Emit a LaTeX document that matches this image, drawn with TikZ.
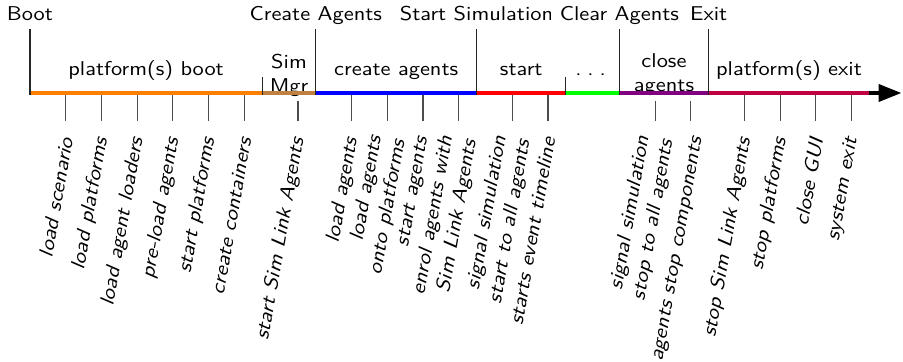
\documentclass[tikz,border=0pt]{standalone}
\usepackage{fontspec}
\setsansfont{lmsans10-regular.otf}[FakeStretch=1.12, ItalicFont=lmsans10-oblique.otf]
\usetikzlibrary{arrows.meta}
\begin{document}
\begin{tikzpicture}[x=0.5pt,y=-0.5pt, font=\sffamily,
  milestone/.style={fill=white, inner xsep=4.5pt, inner ysep=2pt, text height=7pt, text depth=2pt, anchor=base},
  mline/.style={black!85, line width=0.6pt},
  seglabel/.style={text height=7.5pt, text depth=2.5pt, anchor=center},
  seglabeltwo/.style={align=center, anchor=center},
  seg/.style={line width=2pt},
  tickline/.style={black!70, line width=0.6pt},
  evlabel/.style={rotate=80, anchor=east, inner sep=0pt, align=right, font=\sffamily\itshape},
]
\useasboundingbox (0,0) rectangle (903,362);

% segment labels (drawn below the axis line)
\node[seglabel] (l1) at (146.1,71) {platform(s) boot};
\node[seglabeltwo] (l2) at (289,75) {Sim\\Mgr};
\node[seglabel] (l3) at (396.2,71) {create agents};
\node[seglabel] (l4) at (521.2,71) {start};
\node[seglabel] (l5) at (590.6,71) {.\kern2.9pt.\kern2.9pt.};
\node[seglabeltwo] (l6) at (664,75) {close\\agents};
\node[seglabel] (l7) at (789,71) {platform(s) exit};

% axis
\coordinate (a0) at (30,93);
\coordinate (a1) at (262.2,93);
\coordinate (a2) at (315.8,93);
\coordinate (a3) at (476.5,93);
\coordinate (a4) at (565.8,93);
\coordinate (a5) at (619.4,93);
\coordinate (a6) at (708.7,93);
\coordinate (a7) at (869.4,93);
\coordinate (tip) at (901.5,93);
\draw[seg, black, -{Triangle[length=11.5pt,width=8.5pt]}] (a0) -- (tip);
\draw[seg, orange] (a0) -- (a1);
\draw[seg, brown] (a1) -- (a2);
\draw[seg, blue] (a2) -- (a3);
\draw[seg, red] (a3) -- (a4);
\draw[seg, green] (a4) -- (a5);
\draw[seg, violet] (a5) -- (a6);
\draw[seg, purple] (a6) -- (a7);

% boundary ticks
\coordinate (b1t) at (262.2,77);
\coordinate (b1b) at (262.2,95);
\coordinate (b4t) at (565.8,77);
\coordinate (b4b) at (565.8,95);
\draw[mline] (b1t) -- (b1b);
\draw[mline] (b4t) -- (b4b);

% milestones
\node[milestone] (boot) at (30,20.7) {Boot};
\node[milestone] (create) at (315.8,20.7) {Create Agents};
\node[milestone] (startsim) at (476.5,20.7) {Start Simulation};
\node[milestone] (clear) at (619.4,20.7) {Clear Agents};
\node[milestone] (exit) at (708.7,20.7) {Exit};
\coordinate (m0) at (30,95);
\coordinate (m2) at (315.8,95);
\coordinate (m3) at (476.5,95);
\coordinate (m5) at (619.4,95);
\coordinate (m6) at (708.7,95);
\draw[mline] (boot.south) -- (m0);
\draw[mline] (create.south) -- (m2);
\draw[mline] (startsim.south) -- (m3);
\draw[mline] (clear.south) -- (m5);
\draw[mline] (exit.south) -- (m6);

% event ticks
\foreach \k/\s [count=\i] in {1/95,2/95,3/95,4/95,5/95,6/95,7.5/101,9/95,10/95,11/95,12/95,13.5/95,14.5/95,17.5/101,18.5/101,20/95,21/95,22/95,23/95} {
  \coordinate (tt\i) at ({30+35.72*\k},\s);
  \coordinate (tb\i) at ({30+35.72*\k},121);
  \draw[tickline] (tt\i) -- (tb\i);
}

% event labels
\node[evlabel] (e1) at (66.4,137.5) {load scenario};
\node[evlabel] (e2) at (102.1,137.5) {load platforms};
\node[evlabel] (e3) at (137.9,137.5) {load agent loaders};
\node[evlabel] (e4) at (173.6,137.5) {pre-load agents};
\node[evlabel] (e5) at (209.3,137.5) {start platforms};
\node[evlabel] (e6) at (245,137.5) {create containers};
\node[evlabel] (e7) at (298.6,137.5) {start Sim Link Agents};
\node[evlabel] (e8) at (352.2,137.5) {load agents};
\node[evlabel] (e9) at (387.9,137.5) {load agents\\onto platforms};
\node[evlabel] (e10) at (423.6,137.5) {start agents};
\node[evlabel] (e11) at (459.3,137.5) {enrol agents with\\Sim Link Agents};
\node[evlabel] (e12) at (512.9,137.5) {signal simulation\\start to all agents};
\node[evlabel] (e13) at (548.6,137.5) {starts event timeline};
\node[evlabel] (e14) at (655.8,137.5) {signal simulation\\stop to all agents};
\node[evlabel] (e15) at (698,137.5) {agents stop components};
\node[evlabel] (e16) at (745.1,137.5) {stop Sim Link Agents};
\node[evlabel] (e17) at (780.8,137.5) {stop platforms};
\node[evlabel] (e18) at (816.5,137.5) {close GUI};
\node[evlabel] (e19) at (852.3,137.5) {system exit};
\end{tikzpicture}
\end{document}
